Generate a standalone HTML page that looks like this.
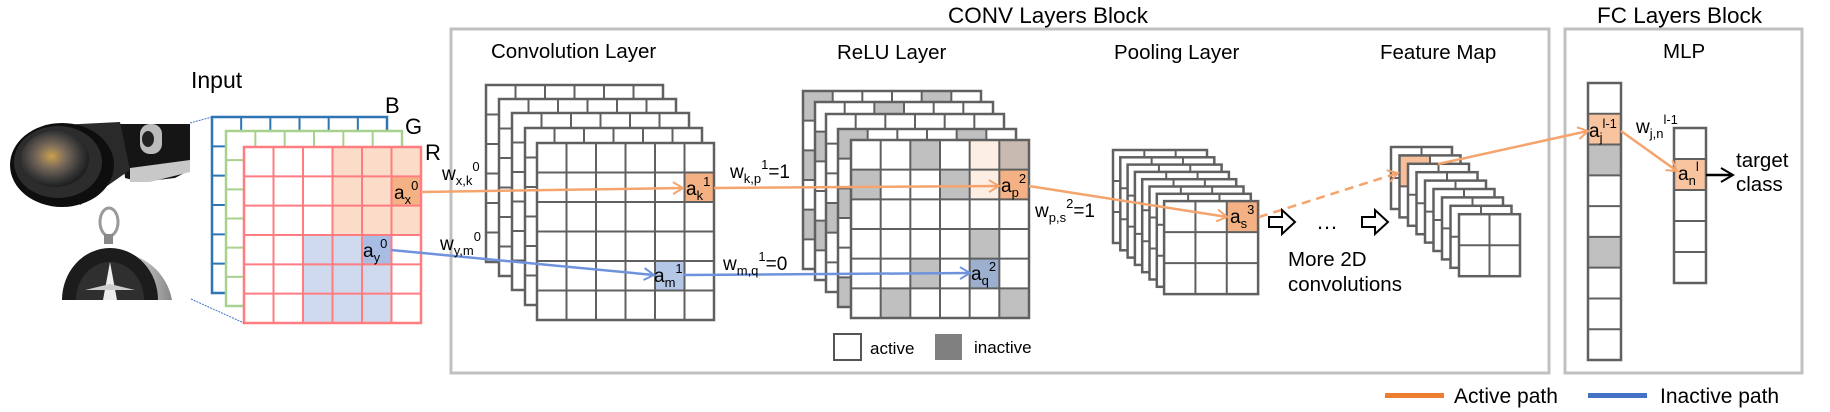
<!DOCTYPE html>
<html><head><meta charset="utf-8"><style>
html,body{margin:0;padding:0;background:#fff;}
svg{display:block;font-family:"Liberation Sans","DejaVu Sans",sans-serif;}
</style></head><body>
<svg id="s" width="1830" height="412" viewBox="0 0 1830 412" xmlns="http://www.w3.org/2000/svg">
<defs>
<marker id="ao" markerWidth="14" markerHeight="14" refX="11" refY="7" orient="auto" markerUnits="userSpaceOnUse"><path d="M1,1 L11,7 L1,13" fill="none" stroke="#f4a46c" stroke-width="2"/></marker>
<marker id="ab" markerWidth="14" markerHeight="14" refX="11" refY="7" orient="auto" markerUnits="userSpaceOnUse"><path d="M1,1 L11,7 L1,13" fill="none" stroke="#6e93dc" stroke-width="2"/></marker>
<marker id="ak" markerWidth="16" markerHeight="16" refX="13" refY="8" orient="auto" markerUnits="userSpaceOnUse"><path d="M1,1 L13,8 L1,15" fill="none" stroke="#000" stroke-width="2"/></marker>
<radialGradient id="lens" cx="0.45" cy="0.45" r="0.6"><stop offset="0" stop-color="#c9a050"/><stop offset="0.35" stop-color="#7a6a5a"/><stop offset="0.7" stop-color="#3a3a3a"/><stop offset="1" stop-color="#151515"/></radialGradient>
<linearGradient id="silv" x1="0" x2="1"><stop offset="0" stop-color="#555"/><stop offset="0.5" stop-color="#eee"/><stop offset="1" stop-color="#888"/></linearGradient>
</defs>
<rect x="451" y="29" width="1098" height="344" fill="none" stroke="#c0c0c0" stroke-width="3"/>
<rect x="1565" y="29" width="237" height="344" fill="none" stroke="#c0c0c0" stroke-width="3"/>
<g id="grids"></g>
<!-- camera -->
<g>
<path d="M120,124 L190,124 L190,170 L175,178 L140,182 L125,178 Z" fill="#151515"/>
<path d="M130,168 L190,160 L190,172 L150,182 L130,182 Z" fill="#c8c8c8"/>
<rect x="140" y="124" width="22" height="30" rx="10" fill="#bbb"/>
<ellipse cx="148" cy="139" rx="6" ry="8" fill="#222"/>
<path d="M60,125 L120,122 L130,170 L80,205 Z" fill="#2a2a2a"/>
<ellipse cx="62" cy="165" rx="52" ry="42" fill="#0e0e0e"/>
<ellipse cx="58" cy="162" rx="44" ry="36" fill="#2c2c2c"/>
<ellipse cx="55" cy="159" rx="34" ry="28" fill="url(#lens)"/>
</g>
<!-- compass -->
<g>
<ellipse cx="109" cy="222" rx="9" ry="14" fill="none" stroke="#9a9a9a" stroke-width="3"/>
<rect x="104" y="234" width="9" height="10" fill="#888"/>
<path d="M62,300 A56,58 0 0 1 172,300 Z" fill="url(#silv)"/>
<path d="M62,300 A48,52 0 0 1 158,300 Z" fill="#1c1c1c"/>
<path d="M76,300 A34,38 0 0 1 144,300 Z" fill="#2f2f2f"/>
<path d="M110,262 L103,300 L117,300 Z" fill="#eee"/>
<path d="M85,290 L135,290 L110,284 Z" fill="#ccc"/>
</g>
<path d="M190,123 L212,117" stroke="#4472c4" stroke-width="1" stroke-dasharray="2,1"/>
<path d="M191,299 L244,323" stroke="#4472c4" stroke-width="1" stroke-dasharray="2,1"/>
<g fill="none" stroke-width="2.5">
<path d="M421,192 L683,188" stroke="#f4a46c" marker-end="url(#ao)"/>
<path d="M714,188 L999,186" stroke="#f4a46c" marker-end="url(#ao)"/>
<path d="M1029,186 L1227,217" stroke="#f4a46c" marker-end="url(#ao)"/>
<path d="M1259,217 L1398,173" stroke="#f4a46c" stroke-dasharray="9,6" marker-end="url(#ao)"/>
<path d="M1438,164 L1588,131" stroke="#f4a46c" marker-end="url(#ao)"/>
<path d="M1621,131 L1677,171" stroke="#f4a46c" marker-end="url(#ao)"/>
<path d="M391,250 L654,275" stroke="#6e93dc" marker-end="url(#ab)"/>
<path d="M684,275 L970,273" stroke="#6e93dc" marker-end="url(#ab)"/>
<path d="M1706,175 L1733,175" stroke="#000" marker-end="url(#ak)"/>
</g>
<path d="M1269,217 h13 v-7 l13,12 l-13,12 v-7 h-13 z" fill="#fff" stroke="#000" stroke-width="2"/>
<path d="M1362,217 h13 v-7 l13,12 l-13,12 v-7 h-13 z" fill="#fff" stroke="#000" stroke-width="2"/>
<text x="1316" y="229" font-size="22">…</text>
<g fill="#000">
<text x="948" y="23" font-size="22.5">CONV Layers Block</text>
<text x="1597" y="23" font-size="22.5">FC Layers Block</text>
<text x="191" y="88" font-size="23">Input</text>
<text x="491" y="58" font-size="20.5">Convolution Layer</text>
<text x="837" y="59" font-size="20.5">ReLU Layer</text>
<text x="1114" y="59" font-size="20.5">Pooling Layer</text>
<text x="1380" y="59" font-size="20.5">Feature Map</text>
<text x="1663" y="58" font-size="20.5">MLP</text>
<text x="385" y="113" font-size="22">B</text>
<text x="405" y="134" font-size="22">G</text>
<text x="425" y="160" font-size="22">R</text>
<text x="1288" y="266" font-size="20.5">More 2D</text>
<text x="1288" y="291" font-size="20.5">convolutions</text>
<text x="1736" y="167" font-size="20.5">target</text>
<text x="1736" y="191" font-size="20.5">class</text>
<text x="870" y="354" font-size="17">active</text>
<text x="974" y="353" font-size="17">inactive</text>
<text x="1454" y="403" font-size="21">Active path</text>
<text x="1660" y="403" font-size="21">Inactive path</text>
</g>
<rect x="834" y="334" width="27" height="26" fill="#fff" stroke="#555" stroke-width="2"/>
<rect x="935" y="334" width="27" height="26" fill="#808080"/>
<rect x="1385" y="393" width="59" height="5" fill="#ed7d31"/>
<rect x="1588" y="393" width="59" height="5" fill="#4472c4"/>
<g font-size="19" fill="#000">
<text x="394" y="199">a<tspan font-size="13" dy="5">x</tspan><tspan font-size="13" dy="-14">0</tspan></text>
<text x="363" y="257">a<tspan font-size="13" dy="5">y</tspan><tspan font-size="13" dy="-14">0</tspan></text>
<text x="686" y="195">a<tspan font-size="13" dy="5">k</tspan><tspan font-size="13" dy="-14">1</tspan></text>
<text x="654" y="282">a<tspan font-size="13" dy="5">m</tspan><tspan font-size="13" dy="-14">1</tspan></text>
<text x="1001" y="192">a<tspan font-size="13" dy="5">p</tspan><tspan font-size="13" dy="-14">2</tspan></text>
<text x="971" y="280">a<tspan font-size="13" dy="5">q</tspan><tspan font-size="13" dy="-14">2</tspan></text>
<text x="1230" y="223">a<tspan font-size="13" dy="5">s</tspan><tspan font-size="13" dy="-14">3</tspan></text>
<text x="1589" y="137">a<tspan font-size="13" dy="5">j</tspan><tspan font-size="13" dy="-14">l-1</tspan></text>
<text x="1678" y="180">a<tspan font-size="13" dy="5">n</tspan><tspan font-size="13" dy="-14">l</tspan></text>
<text x="442" y="180">w<tspan font-size="13" dy="5">x,k</tspan><tspan font-size="13" dy="-14">0</tspan></text>
<text x="440" y="250">w<tspan font-size="13" dy="5">y,m</tspan><tspan font-size="13" dy="-14">0</tspan></text>
<text x="730" y="178">w<tspan font-size="13" dy="5">k,p</tspan><tspan font-size="13" dy="-14">1</tspan><tspan dy="9">=1</tspan></text>
<text x="723" y="270">w<tspan font-size="13" dy="5">m,q</tspan><tspan font-size="13" dy="-14">1</tspan><tspan dy="9">=0</tspan></text>
<text x="1035" y="217">w<tspan font-size="13" dy="5">p,s</tspan><tspan font-size="13" dy="-14">2</tspan><tspan dy="9">=1</tspan></text>
<text x="1636" y="133">w<tspan font-size="13" dy="5">j,n</tspan><tspan font-size="13" dy="-14">l-1</tspan></text>
</g>
</svg>
<script>
(function(){
var NS="http://www.w3.org/2000/svg",g=document.getElementById("grids");
function el(t,a){var e=document.createElementNS(NS,t);for(var k in a)e.setAttribute(k,a[k]);g.appendChild(e);return e;}
function grid(x,y,w,h,c,r,st,sw,fill){
 el("rect",{x:x,y:y,width:w,height:h,fill:"#fff"});
 var cw=w/c,rh=h/r;
 if(fill)for(var i=0;i<r;i++)for(var j=0;j<c;j++){var f=fill(i,j);if(f)el("rect",{x:x+j*cw,y:y+i*rh,width:cw,height:rh,fill:f});}
 for(var j=1;j<c;j++)el("line",{x1:x+j*cw,y1:y,x2:x+j*cw,y2:y+h,stroke:st,"stroke-width":sw});
 for(var i=1;i<r;i++)el("line",{x1:x,y1:y+i*rh,x2:x+w,y2:y+i*rh,stroke:st,"stroke-width":sw});
 el("rect",{x:x,y:y,width:w,height:h,fill:"none",stroke:st,"stroke-width":sw+0.5});
}
grid(212,117,175,176,6,6,"#2e75b6",2);
grid(226,131,176,175,6,6,"#a9d18e",2);
grid(244,147,177,176,6,6,"#ff7c80",2,function(i,j){
 if(i==1&&j==5)return "#f4b183";
 if(i==3&&j==4)return "#a9bde4";
 if(i<3&&j>=3)return "#fbdcc8";
 if(i>=3&&j>=2&&j<=4)return "#cfdaee";});
var cs=[[486,85],[499,99],[512,113],[525,128],[537,143]];
cs.forEach(function(p,k){grid(p[0],p[1],177,177,6,6,"#606060",2,k<4?null:function(i,j){
 if(i==1&&j==5)return "#f4b183";if(i==4&&j==4)return "#b4c7e7";});});
var G="#c0c0c0";
var rs=[[803,91],[815,102],[826,114],[838,129],[851,140]];
var pats=[[[0,0],[0,4],[2,0],[4,0]],[[0,2],[1,0],[4,0]],[[3,0]],[[0,0],[0,4],[2,0],[5,0]]];
rs.forEach(function(p,k){grid(p[0],p[1],178,178,6,6,"#606060",2,function(i,j){
 if(k<4){for(var q=0;q<pats[k].length;q++)if(pats[k][q][0]==i&&pats[k][q][1]==j)return G;return null;}
 if(i==1&&j==5)return "#f4b183";if(i==4&&j==4)return "#9dafcf";
 if(i==0&&j==5)return "#c8bab0";if(j==4&&i<2)return "#fdeee4";
 var gr=[[0,2],[1,0],[1,3],[3,4],[4,2],[5,1],[5,5]];
 for(var q=0;q<gr.length;q++)if(gr[q][0]==i&&gr[q][1]==j)return G;});});
for(var k=0;k<8;k++)grid(1113+k*7.3,150+k*7.3,94,93,3,3,"#606060",2,k<7?null:function(i,j){if(i==0&&j==2)return "#f4b183";});
for(var k=0;k<9;k++)grid(1391+k*8.5,147+k*8.4,61,62,2,2,"#606060",2,k==1?function(i,j){if(i==0&&j==0)return "#f6bf9a";}:null);
grid(1588,83,33,277,1,9,"#606060",2,function(i){if(i==1)return "#f8c4a0";if(i==2||i==5)return G;});
grid(1674,128,32,155,1,5,"#606060",2,function(i){if(i==1)return "#f8c4a0";});
})();
</script>
</body></html>
